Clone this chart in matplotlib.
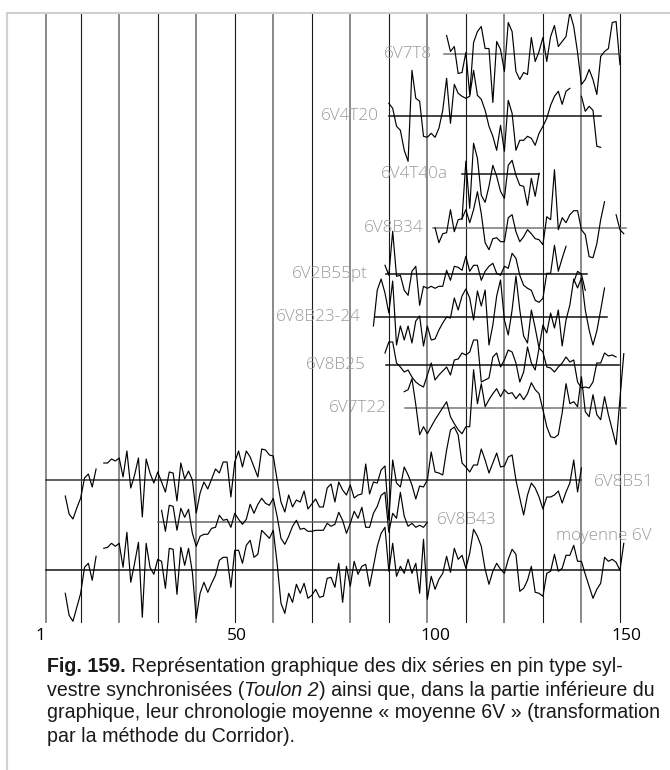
import numpy as np
import matplotlib
matplotlib.use("Agg")
import matplotlib.pyplot as plt
from matplotlib.lines import Line2D

nan = np.nan

# series: first year + one value per year (deviation from the series' own baseline)
names = ["6V7T8", "6V4T20", "6V4T40a", "6V8B34", "6V2B55pt", "6V8B23-24",
         "6V8B25", "6V7T22", "6V8B51", "6V8B43", "moyenne 6V"]

start_years = [105, 90, 109, 102, 89, 86, 89, 94, 6, 31, 6]

v_6V7T8 = [18, 2, 7, -20, -19, 1, -41, 11, 22, 27,
           5, 5, -49, 12, 4, -18, 31, 22, -18, -26,
           -19, -21, 16, -8, 2, 16, -8, 17, 28, 7,
           12, 17, 41, 27, 1, -31, -26, -16, -26, -41,
           -3, 2, 5, 31, 32, -11]
v_6V4T20 = [13, 8, -10, -14, -34, -45, 46, 18, 15, -20,
            -21, -17, -21, -12, 6, 38, -7, 32, 23, 20,
            18, 20, 46, 21, 17, 6, -10, -20, -34, -9,
            -35, 16, 3, -34, -24, -24, -20, -22, -29, -17,
            -10, -2, 11, 20, 25, 12, 25, 28, nan, nan,
            20, 5, 10, 6, -30, -31]
v_6V4T40a = [-45, 13, -34, 31, 16, -21, -28, -12, 9, -2,
             -17, -24, 9, 14, -1, -11, -12, -31, -4, -22, 1]
v_6V8B34 = [0, -15, -6, -5, 18, -4, 8, 9, 18, 5,
            18, 36, 14, -15, -22, -11, -10, -14, -14, 10,
            13, -4, -14, -9, -2, -6, -11, -12, -17, 11,
            8, 58, -2, 10, 5, 13, 17, 17, -2, -7,
            -29, -30, -16, 8, 26, nan, nan, 13, -2, -6]
v_6V2B55pt = [9, -1, 43, -2, -1, -16, -21, 3, 8, -31,
              -12, -14, -12, -14, -12, -12, 4, -6, 8, 7,
              4, 18, 3, 9, 9, -6, 3, 8, 11, 1,
              -1, 8, 6, 21, 16, -1, -11, -14, -16, -26,
              -28, -24, 1, 1, 29, 3, 16, 28, nan, -8, 3, 0, -16]
v_6V8B23_24 = [-9, 27, 38, 24, 4, 36, -28, -9, -23, -9,
               -26, -4, 1, -29, -9, -23, -22, -13, -6, 0,
               -1, 19, 7, 21, 28, 19, -3, 26, 11, 27,
               -28, -8, 21, 37, -3, -18, 7, 41, 7, -19,
               -26, 7, -11, -31, -8, -16, 4, -11, 7, -29,
               -3, 12, 38, 29, 39, 7, -13, -28, -14, 7, 29]
v_6V8B25 = [12, 23, 23, 2, -2, -7, -5, -12, -17, -20,
            -22, -10, 2, -15, -10, -6, -2, -10, 5, 6,
            12, 10, 13, 25, 25, -17, -15, -13, 8, 12,
            -2, 5, 15, 13, 2, -17, -7, 18, 2, -5,
            17, 13, -2, -3, -7, -2, 2, 8, 3, 5,
            -17, -23, -22, -23, -17, 2, 2, 12, 9, 10, 8]
v_6V7T22 = [16, 18, 29, 3, -27, -19, -26, -19, -12, -6,
            0, 6, -9, -16, -22, -26, -19, -19, 38, 4,
            24, 1, 8, 14, 19, 11, 18, 14, 15, 9,
            14, 8, 14, 25, 18, 14, -2, -19, -29, -30,
            -27, -5, 24, 4, 6, 1, 31, -4, -9, 13,
            -7, -12, 11, -7, -22, -37, 9, 54]
v_6V8B51 = [-16, -34, -39, -28, -18, 2, 6, -7, 11, nan,
            17, 17, 21, 19, 22, 3, 29, -8, 5, 22, -37, 21, 7, -3, 8,
            -2, -12, 8, 7, -21, 17, 1, 9, 0, -33,
            -13, -2, -9, 1, 11, 7, 18, 18, -17, 18,
            29, 13, 29, 23, 13, 3, 31, 30, 25, 24,
            0, -22, -32, -15, -27, -20, -22, -11, -29, -24, -19, -27, -27, -8, -4, -22, -2,
            -10, -15, -5, -18, -15, -14, 16, -14, -2, -3, 10, 14, -40, 20, -3, -7, 13, 5, -5, -19, -6, -7, 0,
            28, 8, 7, 5, 30, 50, 53, 45, 17, 13,
            8, 15, 15, 31, 20, 7, 17, 27, 13, 14,
            23, 25, 0, -18, -35, -15, -3, -8, -17, -29,
            -17, -17, -15, -11, -23, -12, -3, 20, -12, 12]
v_6V8B43 = [12, -9, 17, 16, -8, 14, 5, 13, -11, -24,
            -14, -12, -12, -6, -5, 7, 2, 3, -5, 9,
            3, -2, 3, 18, 9, 18, 24, 19, 17, 24,
            6, -16, -22, -14, -4, 2, -7, -6, -9, -9, -8, -8, -8, -1, -4, -2, 10,
            2, -11, -1, 11, 4, 15, -5, -5, 9, 16, 27, 30, -10, 9, 4, 30, 6, -4, -1, -5, -3, -5, 0]
v_moyenne = [-23, -45, -51, -37, -23, 3, 7, -10, 14, nan,
             22, 23, 27, 24, 27, 3, 38, -12, 7, 28, -47, 27, 3, -4, 11,
             9, -18, 22, 21, -24, 23, 5, 22, -2, -48,
             -23, -12, -22, -13, -5, 10, 13, 13, -17, 20,
             20, 7, 25, 30, 13, 16, 40, 36, 32, 40,
             7, -33, -43, -23, -32, -14, -23, -13, -28, -25, -19, -27, -26, -8, -7, -17, 7,
             -32, 4, -16, 9, -4, 4, 6, -16, 4, 24, 37, 43, -1, 27, -6, 4, -3, 11, -3, 7, -23, 31, -29,
             -6, -19, -9, -3, 14, -2, 22, 11, 15, 2,
             17, 41, 34, 24, 1, -14, -1, 7, 1, -3,
             11, 21, 16, -21, -18, -10, 4, -22, -23, -26,
             -3, -1, 16, -1, 2, 15, 15, 25, 9, 9,
             -4, -16, -28, -19, -13, 13, 9, 11, 8, 0, 27]

values = [v_6V7T8, v_6V4T20, v_6V4T40a, v_6V8B34, v_6V2B55pt, v_6V8B23_24,
          v_6V8B25, v_6V7T22, v_6V8B51, v_6V8B43, v_moyenne]

# layout: baseline row (px from top), baseline span in years, label place
baselines = [53.5, 116.3, 174.3, 227.7, 274.3, 317, 365, 407.7, 480, 522.3, 570.3]
spans = [(104.3, 150), (90, 145), (109, 129), (101.5, 151.5), (89.3, 141.4),
         (86.4, 146.6), (89.3, 149.7), (94.2, 151.5), (1, 140), (30, 100), (1, 150)]
label_x = [101.2, 87.4, 105.4, 99.1, 84.6, 82.8, 84.1, 89.5, 143.3, 102.5, 133.4]
label_dy = [0, 0, 0, 0, 0, 0, 0, 0, 2, -2, -34]
label_ha = ["right"] * 8 + ["left"] * 3
base_colors = ["#777777", "#111111", "#111111", "#777777", "#111111", "#111111",
               "#111111", "#777777", "#333333", "#666666", "#111111"]

grid_years = [1] + list(range(10, 151, 10))
tick_years = [1, 50, 100, 150]
tick_shift = [-1.5, 0.5, 2.0, 1.8]

W, H = 670, 770
px_per_year = 3.852
x_left = 46

fig = plt.figure(figsize=(W / 100, H / 100), dpi=100)
ax = fig.add_axes([0, 0, 1, 1])
ax.set_xlim(1 - x_left / px_per_year, 1 + (W - x_left) / px_per_year)
ax.set_ylim(H, 0)
ax.axis("off")

# frame
fig.add_artist(Line2D([7 / W, 1], [1 - 12.5 / H] * 2, transform=fig.transFigure,
                      color="#d0d0d0", lw=1.5))
fig.add_artist(Line2D([7 / W] * 2, [0, 1 - 12.5 / H], transform=fig.transFigure,
                      color="#d0d0d0", lw=1.5))

for i, yr in enumerate(grid_years):
    if i % 2 == 0:
        ax.plot([yr, yr], [13, 622], color="#808080", lw=1.3, zorder=1)
    else:
        ax.plot([yr, yr], [13, 622], color="#1a1a1a", lw=0.8, zorder=1)

for i, name in enumerate(names):
    b = baselines[i]
    ax.plot(spans[i], [b, b], color=base_colors[i], lw=1.1, zorder=2)
    v = np.array(values[i], dtype=float)
    yrs = start_years[i] + np.arange(len(v))
    ax.plot(yrs, b - v, color="black", lw=0.85, zorder=3)
    ax.text(label_x[i], b + label_dy[i], name, ha=label_ha[i], va="center",
            fontsize=12.3, color="#9a9a9a", family="Open Sans", fontweight="light",
            zorder=4)

for yr, sh in zip(tick_years, tick_shift):
    ax.text(yr + sh, 636, str(yr), ha="center", va="center", fontsize=12.5,
            family="Open Sans", color="black")

# caption with mixed styles
caption = [
    [("Fig. 159.", "bold", "normal"), (" Représentation graphique des dix séries en pin type syl-", "normal", "normal")],
    [("vestre synchronisées (", "normal", "normal"), ("Toulon 2", "normal", "italic"),
     (") ainsi que, dans la partie inférieure du", "normal", "normal")],
    [("graphique, leur chronologie moyenne « moyenne 6V » (transformation", "normal", "normal")],
    [("par la méthode du Corridor).", "normal", "normal")],
]
renderer = fig.canvas.get_renderer()
for k, line in enumerate(caption):
    x = 47 / W
    y = 1 - (667 + 23 * k) / H
    for txt, weight, style in line:
        t = fig.text(x, y, txt, fontsize=14.1, family="Liberation Sans",
                     fontweight=weight, fontstyle=style, color="#1a1a1a", va="center")
        x += t.get_window_extent(renderer).width / fig.bbox.width

fig.savefig("out.png", dpi=100)
